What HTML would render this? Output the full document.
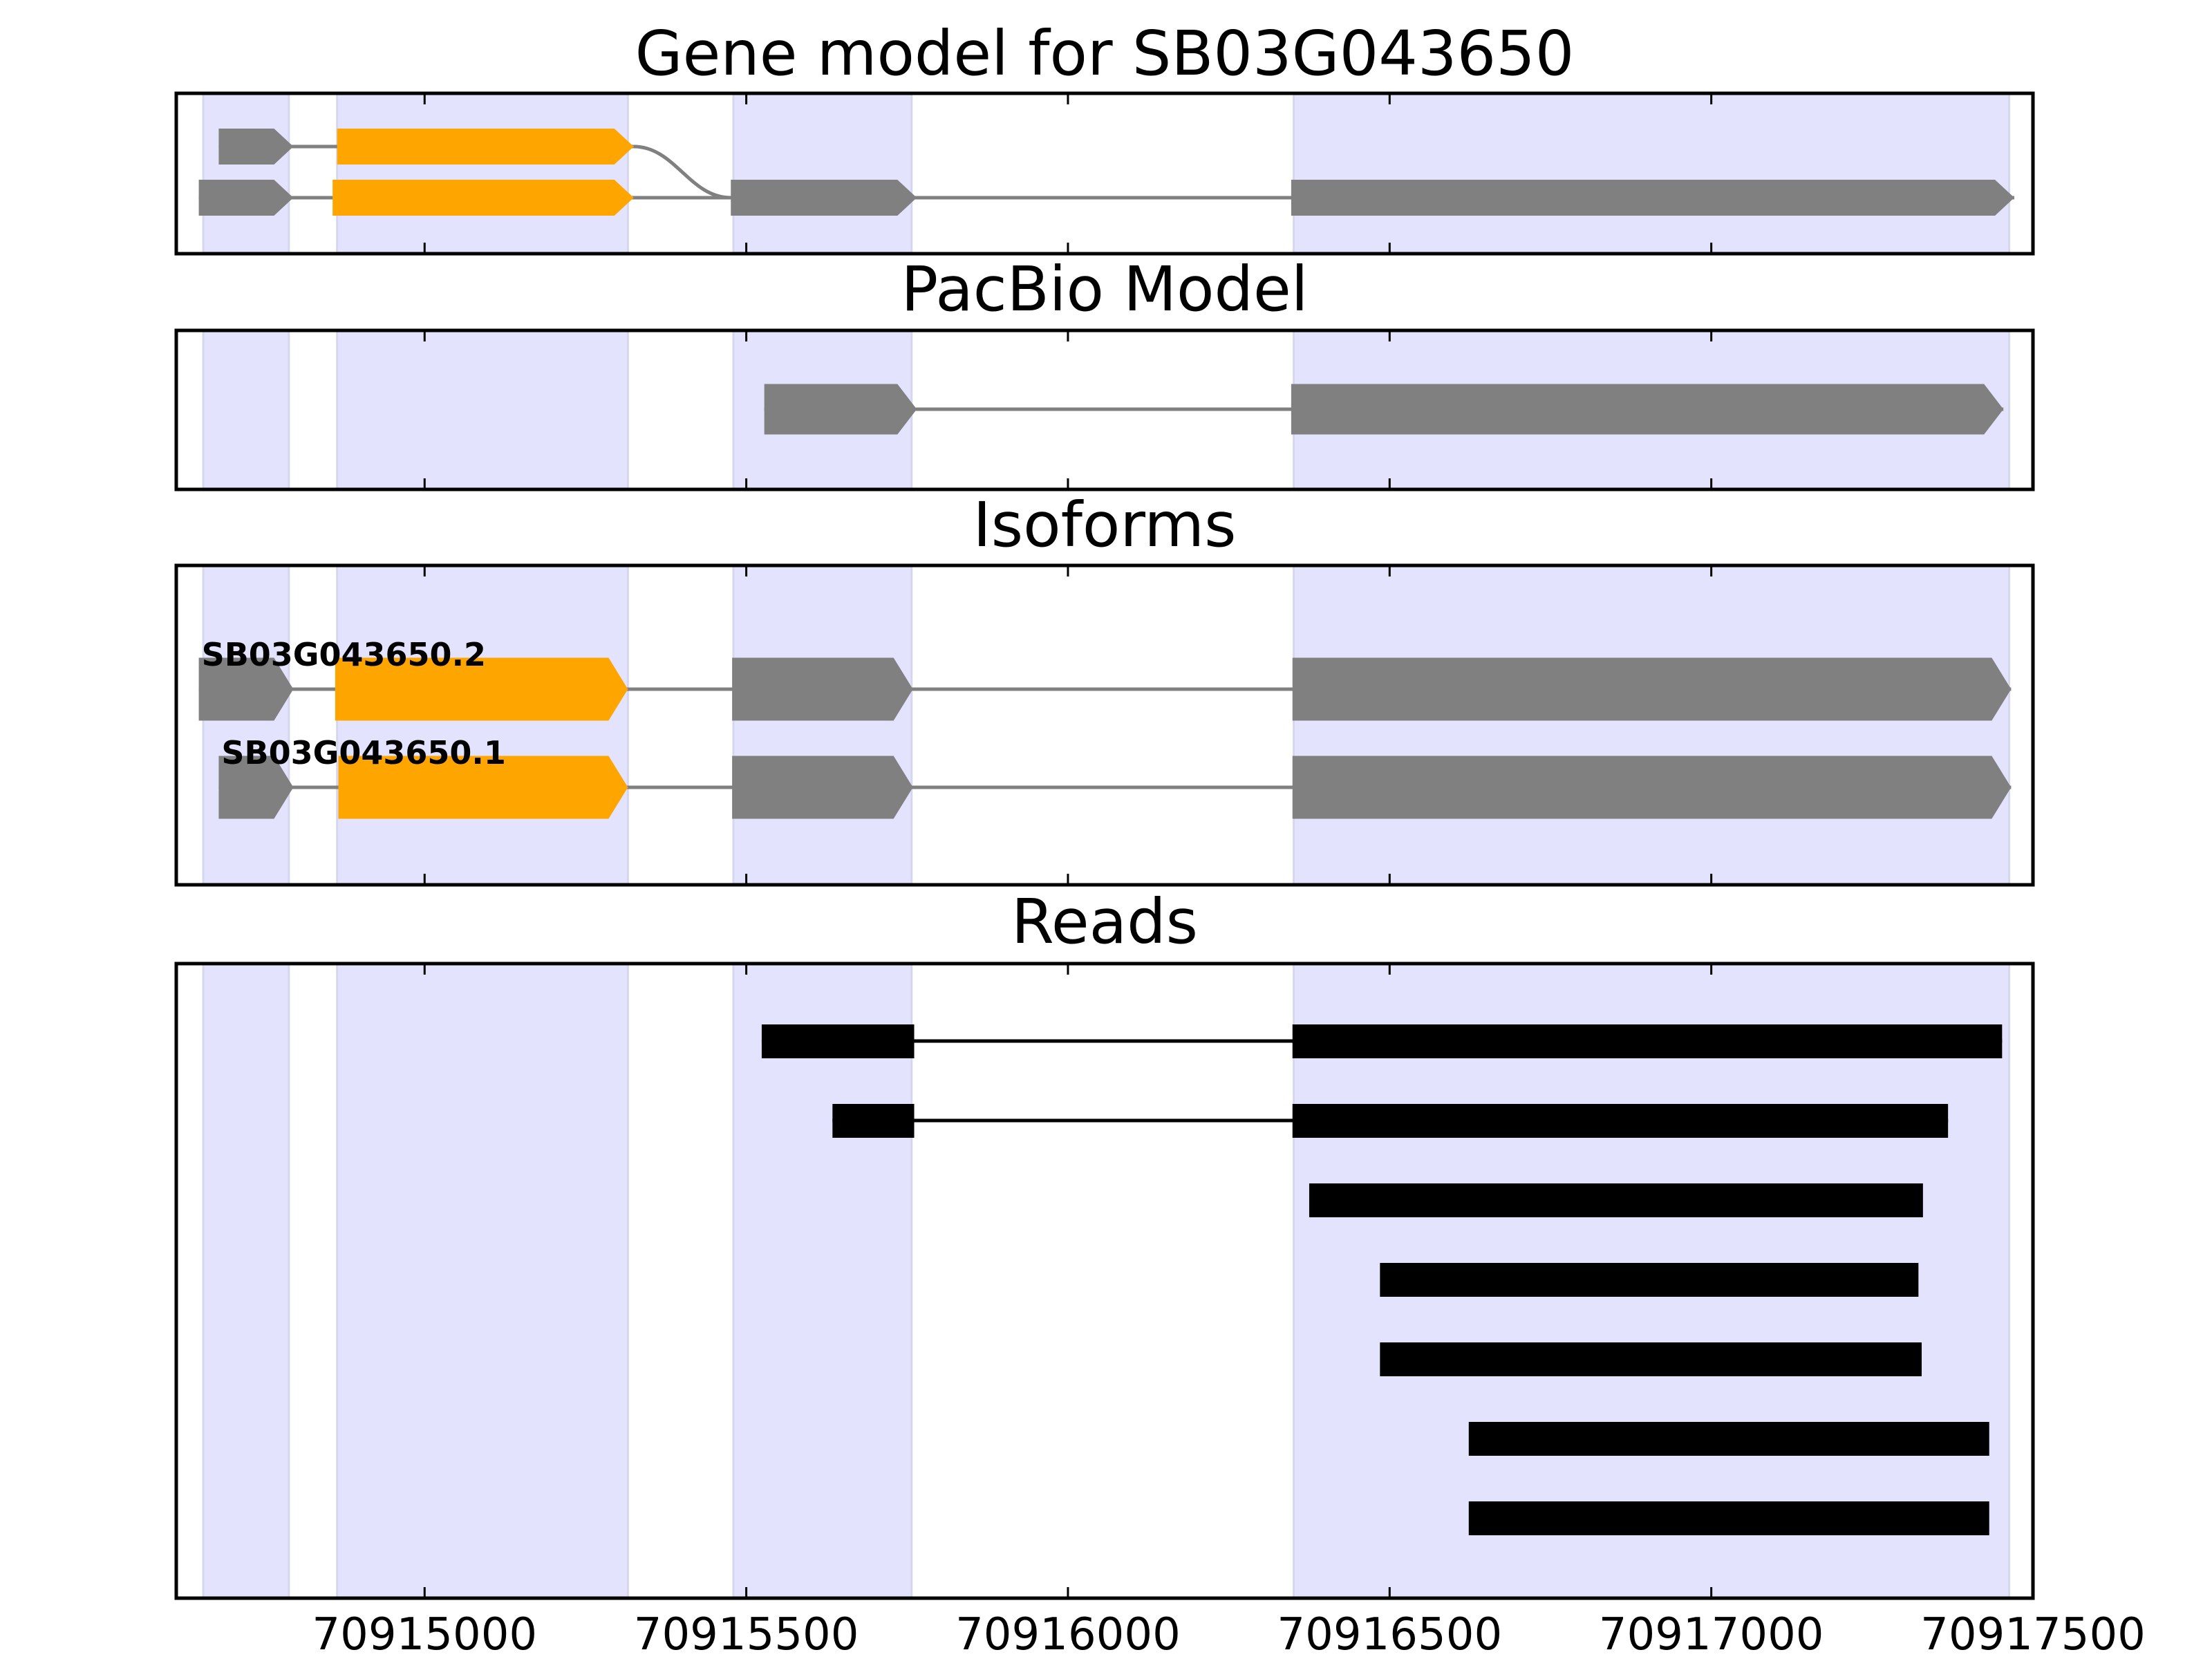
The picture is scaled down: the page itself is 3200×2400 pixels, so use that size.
<!DOCTYPE html>
<html><head><meta charset="utf-8"><style>
html,body{margin:0;padding:0;background:#fff}
svg{display:block}
text{font-family:"DejaVu Sans","Liberation Sans",sans-serif}
</style></head><body>
<svg id="chart" width="3200" height="2400" viewBox="0 0 3200 2400" xmlns="http://www.w3.org/2000/svg"></svg>
<script>
const xMin = 70914614, xMax = 70917500;
const tickValues = [70915000, 70915500, 70916000, 70916500, 70917000, 70917500];
const tickLabels = ["70915000","70915500","70916000","70916500","70917000","70917500"];
const shadeStarts = [70914656, 70914864, 70915480, 70916351];
const shadeEnds   = [70914789, 70915316, 70915757, 70917463];
const geneRow1 = [[70914680,70914796,"gray"],[70914864,70915325,"orange"]];
const geneRow2 = [[70914649,70914796,"gray"],[70914857,70915325,"orange"],[70915476,70915765,"gray"],[70916347,70917471,"gray"]];
const pacbioExons = [[70915528,70915765,"gray"],[70916347,70917454,"gray"]];
const iso2Exons = [[70914649,70914796,"gray"],[70914861,70915316,"orange"],[70915478,70915759,"gray"],[70916349,70917466,"gray"]];
const iso1Exons = [[70914680,70914796,"gray"],[70914866,70915316,"orange"],[70915478,70915759,"gray"],[70916349,70917466,"gray"]];
const isoNames = ["SB03G043650.2","SB03G043650.1"];
const readStarts = [[70915524,70916349],[70915634,70916349],[70916375],[70916485],[70916485],[70916623],[70916623]];
const readEnds   = [[70915761,70917452],[70915761,70917368],[70917329],[70917322],[70917327],[70917432],[70917432]];

const L = 255, R = 2941;
const X = v => L + (v - xMin) / (xMax - xMin) * (R - L);
const NS = "http://www.w3.org/2000/svg";
const svg = document.getElementById("chart");
function mk(tag, attrs, parent) {
  const e = document.createElementNS(NS, tag);
  for (const k in attrs) e.setAttribute(k, attrs[k]);
  (parent || svg).appendChild(e);
  return e;
}
const COL = {gray:"#808080", orange:"#ffa500"};
const panels = [
  {name:"gene-model-panel", title:"Gene model for SB03G043650", top:135, bot:367, ty:108},
  {name:"pacbio-panel", title:"PacBio Model", top:478, bot:708, ty:449},
  {name:"isoforms-panel", title:"Isoforms", top:818, bot:1280, ty:790},
  {name:"reads-panel", title:"Reads", top:1394, bot:2312, ty:1364}
];
const groups = [];
panels.forEach(p => {
  const g = mk("g", {});
  
  
  groups.push(g);
  for (let i = 0; i < shadeStarts.length; i++) {
    const r = mk("rect", {x:X(shadeStarts[i]), y:p.top, width:X(shadeEnds[i])-X(shadeStarts[i]), height:p.bot-p.top, fill:"#e3e3fd", stroke:"#d6d6ee", "stroke-width":3}, g);
    
    
  }
  const t = mk("text", {x:1598, y:p.ty, "text-anchor":"middle", "font-size":89}, g);
  t.textContent = p.title;
  
  
});
function exon(g, s, e, cy, h, color) {
  const x1 = X(s), x2 = X(e), head = Math.min(28, x2 - x1);
  const pts = [[x1,cy-h/2],[x2-head,cy-h/2],[x2,cy],[x2-head,cy+h/2],[x1,cy+h/2]];
  const el = mk("polygon", {points:pts.map(p=>p.join(",")).join(" "), fill:COL[color]}, g);
  
  
}
function line(g, x1, x2, y, col, w) {
  const el = mk("line", {x1:X(x1), x2:X(x2), y1:y, y2:y, stroke:col, "stroke-width":w}, g);
  
  
}
function transcript(g, exons, cy, h) {
  line(g, exons[0][0], exons[exons.length-1][1], cy, "#808080", 5);
  exons.forEach(e => exon(g, e[0], e[1], cy, h, e[2]));
}
{
  const g = groups[0];
  const y1 = 212, y2 = 286;
  line(g, geneRow1[0][0], geneRow1[1][1], y1, "#808080", 5);
  const sx = X(geneRow1[1][1]), ex = X(geneRow2[2][0]);
  const c = mk("path", {d:`M${sx},${y1} C${sx+60},${y1} ${ex-60},${y2} ${ex},${y2}`, fill:"none", stroke:"#808080", "stroke-width":5}, g);
  
  
  geneRow1.forEach(e => exon(g, e[0], e[1], y1, 52, e[2]));
  transcript(g, geneRow2, y2, 52);
}
transcript(groups[1], pacbioExons, 592, 73);
transcript(groups[2], iso2Exons, 997, 91);
transcript(groups[2], iso1Exons, 1139, 91);
[[iso2Exons, 963],[iso1Exons, 1105]].forEach((a, i) => {
  const t = mk("text", {x:X(a[0][0][0]) + 4, y:a[1], "font-size":46, "font-weight":"bold"}, groups[2]);
  t.textContent = isoNames[i];
  
  
});
const readY0 = 1506, readStep = 115;
readStarts.forEach((ss, i) => {
  const cy = readY0 + i * readStep;
  const g = mk("g", {}, groups[3]);
  
  
  if (ss.length > 1) line(g, ss[0], readEnds[i][ss.length-1], cy, "#000", 5);
  ss.forEach((s, j) => {
    const r = mk("rect", {x:X(s), y:cy-24, width:X(readEnds[i][j])-X(s), height:49, fill:"#000"}, g);
    
    
  });
});
panels.forEach((p, i) => {
  const g = groups[i];
  tickValues.forEach(v => {
    mk("line", {x1:X(v), x2:X(v), y1:p.top, y2:p.top+16, stroke:"#000", "stroke-width":3}, g);
    mk("line", {x1:X(v), x2:X(v), y1:p.bot-16, y2:p.bot, stroke:"#000", "stroke-width":3}, g);
  });
  const fr = mk("rect", {x:L, y:p.top, width:R-L, height:p.bot-p.top, fill:"none", stroke:"#000", "stroke-width":5}, g);
  
  
});
tickValues.forEach((v, i) => {
  const t = mk("text", {x:X(v), y:2386, "text-anchor":"middle", "font-size":64});
  t.textContent = tickLabels[i];
  
  
});
</script>
</body></html>
